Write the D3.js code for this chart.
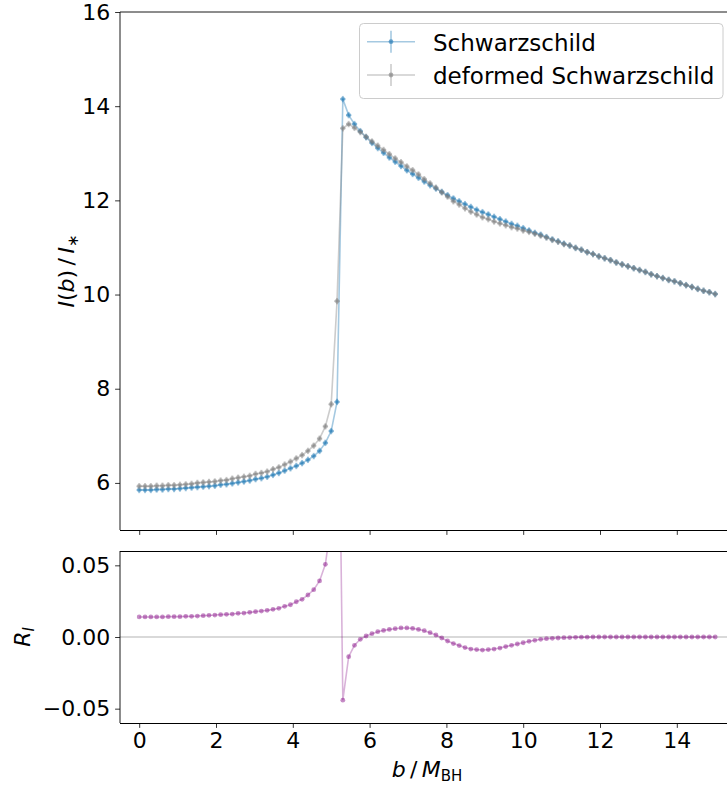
<!DOCTYPE html>
<html><head><meta charset="utf-8">
<script src="https://cdn.jsdelivr.net/npm/d3@7"></script>
<style>body{margin:0;background:#fff} svg{display:block} text{font-family:"DejaVu Sans",sans-serif;fill:#000}</style>
</head><body><svg id="c" width="727" height="787"></svg>
<script>
// ---------- data ----------
const bValues = [0,0.152,0.303,0.455,0.606,0.758,0.909,1.061,1.212,1.364,1.515,1.667,1.818,1.970,2.121,2.273,2.424,2.576,2.727,2.879,
3.030,3.182,3.333,3.485,3.636,3.788,3.939,4.091,4.242,4.394,4.545,4.697,4.848,5.000,5.152,5.303,5.455,5.606,5.758,5.909,
6.061,6.212,6.364,6.515,6.667,6.818,6.970,7.121,7.273,7.424,7.576,7.727,7.879,8.030,8.182,8.333,8.485,8.636,8.788,8.939,
9.091,9.242,9.394,9.545,9.697,9.848,10.000,10.152,10.303,10.455,10.606,10.758,10.909,11.061,11.212,11.364,11.515,11.667,11.818,11.970,
12.121,12.273,12.424,12.576,12.727,12.879,13.030,13.182,13.333,13.485,13.636,13.788,13.939,14.091,14.242,14.394,14.545,14.697,14.848,15.000];

const schwarzschild = [5.85,5.85,5.85,5.86,5.86,5.87,5.87,5.88,5.89,5.90,
5.91,5.92,5.93,5.94,5.96,5.97,5.99,6.01,6.03,6.05,
6.08,6.10,6.13,6.17,6.21,6.26,6.31,6.36,6.42,6.49,
6.57,6.68,6.85,7.10,7.72,14.15,13.81,13.62,13.47,13.34,
13.22,13.11,13.01,12.91,12.82,12.73,12.64,12.56,12.48,12.40,
12.32,12.25,12.18,12.11,12.04,11.98,11.92,11.86,11.80,11.75,
11.70,11.65,11.60,11.55,11.50,11.46,11.41,11.36,11.31,11.27,
11.22,11.17,11.13,11.08,11.04,10.99,10.95,10.90,10.86,10.81,
10.77,10.73,10.68,10.64,10.60,10.56,10.52,10.48,10.43,10.39,
10.35,10.31,10.28,10.24,10.20,10.16,10.12,10.08,10.05,10.01];

const deformed = [5.93,5.93,5.93,5.94,5.94,5.95,5.95,5.96,5.97,5.98,
6.00,6.01,6.02,6.03,6.05,6.06,6.09,6.11,6.13,6.15,
6.19,6.21,6.24,6.29,6.33,6.39,6.45,6.52,6.59,6.68,
6.79,6.94,7.20,7.67,9.86,13.53,13.62,13.54,13.45,13.35,
13.25,13.16,13.07,12.98,12.89,12.81,12.72,12.64,12.55,12.45,
12.36,12.27,12.17,12.08,11.98,11.91,11.83,11.76,11.70,11.64,
11.60,11.55,11.51,11.47,11.43,11.40,11.36,11.33,11.29,11.25,
11.21,11.16,11.12,11.07,11.04,10.99,10.95,10.90,10.86,10.81,
10.77,10.73,10.68,10.64,10.60,10.56,10.52,10.48,10.43,10.39,
10.35,10.31,10.28,10.24,10.20,10.16,10.12,10.08,10.05,10.01];

const ratioR = [0.0140,0.0140,0.0140,0.0140,0.0140,0.0142,0.0142,0.0142,0.0144,0.0144,
0.0146,0.0149,0.0151,0.0153,0.0156,0.0158,0.0160,0.0165,0.0167,0.0172,
0.0177,0.0181,0.0186,0.0193,0.0200,0.0214,0.0225,0.0246,0.0263,0.0293,
0.0330,0.0391,0.0507,0.0800,0.2770,-0.0441,-0.0137,-0.0058,-0.0016,0.0007,
0.0023,0.0037,0.0046,0.0053,0.0058,0.0063,0.0063,0.0060,0.0053,0.0044,
0.0030,0.0014,-0.0007,-0.0028,-0.0046,-0.0060,-0.0074,-0.0084,-0.0088,-0.0091,
-0.0088,-0.0084,-0.0077,-0.0067,-0.0058,-0.0049,-0.0040,-0.0030,-0.0023,-0.0016,
-0.0012,-0.0009,-0.0007,-0.0005,-0.0004,-0.0002,-0.0001,-0.0001,0,0,
0,0,0,0,0,0,0,0,0,0,
0,0,0,0,0,0,0,0,0,0];

const xTicks = [0,2,4,6,8,10,12,14];
const yTopTicks = [6,8,10,12,14,16];
const yBotTicks = [-0.05,0,0.05];
const seriesNames = ["Schwarzschild","deformed Schwarzschild"];

// ---------- layout ----------
const svg = d3.select("#c");
const FS = 22;
const x = d3.scaleLinear().domain([-0.5,15.5]).range([120,734.4]);
const yTop = d3.scaleLinear().domain([5,16]).range([530,12]);
const yBot = d3.scaleLinear().domain([-0.06,0.06]).range([723,551]);

const defs = svg.append("defs");
defs.append("clipPath").attr("id","clipTop").append("rect").attr("x",120).attr("y",12).attr("width",614).attr("height",518);
defs.append("clipPath").attr("id","clipBot").append("rect").attr("x",120).attr("y",551).attr("width",614).attr("height",172);

const C_BLUE = "#1f77b4", C_GRAY = "#808080", C_PURP = "#800080";
const XERR = 0.07, YERR = 0.068;

function drawErrSeries(g, yv, color) {
  const data = bValues.map((b,i)=>({b, v:yv[i]}));
  const op = 0.4;
  g.append("path").datum(data)
    .attr("d", d3.line().x(d=>x(d.b)).y(d=>yTop(d.v)))
    .attr("fill","none").attr("stroke",color).attr("stroke-width",1.6).attr("stroke-opacity",op);
  g.selectAll(null).data(data).enter().append("line")
    .attr("x1",d=>x(d.b)).attr("x2",d=>x(d.b))
    .attr("y1",d=>yTop(d.v-YERR)).attr("y2",d=>yTop(d.v+YERR))
    .attr("stroke",color).attr("stroke-width",2).attr("stroke-opacity",op);
  g.selectAll(null).data(data).enter().append("line")
    .attr("x1",d=>x(d.b-XERR)).attr("x2",d=>x(d.b+XERR))
    .attr("y1",d=>yTop(d.v)).attr("y2",d=>yTop(d.v))
    .attr("stroke",color).attr("stroke-width",2).attr("stroke-opacity",op);
  g.selectAll(null).data(data).enter().append("circle")
    .attr("cx",d=>x(d.b)).attr("cy",d=>yTop(d.v)).attr("r",2.4)
    .attr("fill",color).attr("fill-opacity",op);
}

// ---------- top panel ----------
const gTop = svg.append("g").attr("clip-path","url(#clipTop)");
drawErrSeries(gTop, schwarzschild, C_BLUE);
drawErrSeries(gTop, deformed, C_GRAY);

function styleAxis(g){
  g.select(".domain").remove();
  g.selectAll(".tick line").attr("stroke","#000").attr("stroke-width",0.8);
  g.selectAll(".tick text").attr("font-size",FS).attr("font-family","DejaVu Sans").attr("fill","#000");
}
svg.append("g").attr("transform","translate(120,0)")
  .call(d3.axisLeft(yTop).tickValues(yTopTicks).tickFormat(d3.format("d")).tickSize(4.9).tickPadding(4.9))
  .call(styleAxis);
svg.append("g").attr("transform","translate(0,530)")
  .call(d3.axisBottom(x).tickValues(xTicks).tickFormat("").tickSize(4.9))
  .call(styleAxis);

svg.append("line").attr("x1",120).attr("x2",120).attr("y1",12).attr("y2",530).attr("stroke","#000").attr("stroke-width",0.9);
svg.append("line").attr("x1",120).attr("x2",735).attr("y1",12).attr("y2",12).attr("stroke","#000").attr("stroke-width",0.9);
svg.append("line").attr("x1",120).attr("x2",735).attr("y1",530.5).attr("y2",530.5).attr("stroke","#000").attr("stroke-width",1);

// legend
const lg = svg.append("g");
lg.append("rect").attr("x",359.5).attr("y",23.5).attr("width",363.5).attr("height",75).attr("rx",4)
  .attr("fill","#fff").attr("fill-opacity",0.8).attr("stroke","#cccccc").attr("stroke-width",1);
[[C_BLUE,41.7],[C_GRAY,75]].forEach(([col,yy],k)=>{
  lg.append("line").attr("x1",367).attr("x2",415).attr("y1",yy).attr("y2",yy).attr("stroke",col).attr("stroke-width",1.6).attr("stroke-opacity",0.4);
  lg.append("line").attr("x1",391).attr("x2",391).attr("y1",yy-11).attr("y2",yy+11).attr("stroke",col).attr("stroke-width",1.6).attr("stroke-opacity",0.4);
  lg.append("circle").attr("cx",391).attr("cy",yy).attr("r",2.4).attr("fill",col).attr("fill-opacity",0.6);
  lg.append("text").attr("x",433).attr("y",yy+8.8).attr("font-size",23).text(seriesNames[k]);
});

// y label top
const yl = svg.append("text").attr("transform","translate(74,271) rotate(-90)").attr("text-anchor","middle").attr("font-size",FS);
yl.append("tspan").attr("font-style","italic").text("I");
yl.append("tspan").text("(");
yl.append("tspan").attr("font-style","italic").text("b");
yl.append("tspan").text(")\u2009/\u2009");
yl.append("tspan").attr("font-style","italic").text("I");
yl.append("tspan").attr("font-size",15).attr("dy",4).text("\u2217");

// ---------- bottom panel ----------
const gBot = svg.append("g").attr("clip-path","url(#clipBot)");
gBot.append("line").attr("x1",120).attr("x2",735).attr("y1",yBot(0)).attr("y2",yBot(0))
  .attr("stroke",C_GRAY).attr("stroke-opacity",0.3).attr("stroke-width",2);
const rData = bValues.map((b,i)=>({b, v:ratioR[i]}));
gBot.append("path").datum(rData)
  .attr("d", d3.line().x(d=>x(d.b)).y(d=>yBot(d.v)))
  .attr("fill","none").attr("stroke",C_PURP).attr("stroke-width",1.6).attr("stroke-opacity",0.3);
gBot.selectAll(null).data(rData).enter().append("circle")
  .attr("cx",d=>x(d.b)).attr("cy",d=>yBot(d.v)).attr("r",2.4)
  .attr("fill",C_PURP).attr("fill-opacity",0.45);

svg.append("g").attr("transform","translate(120,0)")
  .call(d3.axisLeft(yBot).tickValues(yBotTicks).tickFormat(d=>d3.format(".2f")(d).replace("-","\u2212")).tickSize(4.9).tickPadding(4.9))
  .call(styleAxis);
svg.append("g").attr("transform","translate(0,723)")
  .call(d3.axisBottom(x).tickValues(xTicks).tickFormat(d3.format("d")).tickSize(4.9).tickPadding(4.9))
  .call(styleAxis);

svg.append("line").attr("x1",120).attr("x2",120).attr("y1",551).attr("y2",723).attr("stroke","#000").attr("stroke-width",0.9);
svg.append("line").attr("x1",120).attr("x2",735).attr("y1",551.5).attr("y2",551.5).attr("stroke","#000").attr("stroke-width",1);
svg.append("line").attr("x1",120).attr("x2",735).attr("y1",723.5).attr("y2",723.5).attr("stroke","#000").attr("stroke-width",1);

// y label bottom
const rl = svg.append("text").attr("transform","translate(30,637) rotate(-90)").attr("text-anchor","middle").attr("font-size",FS);
rl.append("tspan").attr("font-style","italic").text("R");
rl.append("tspan").attr("font-style","italic").attr("font-size",15).attr("dy",4).text("I");

// x label
const xl = svg.append("text").attr("x",427).attr("y",777).attr("text-anchor","middle").attr("font-size",FS);
xl.append("tspan").attr("font-style","italic").text("b");
xl.append("tspan").text("\u2009/\u2009");
xl.append("tspan").attr("font-style","italic").text("M");
xl.append("tspan").attr("font-size",15).attr("dy",4).text("BH");
</script></body></html>
